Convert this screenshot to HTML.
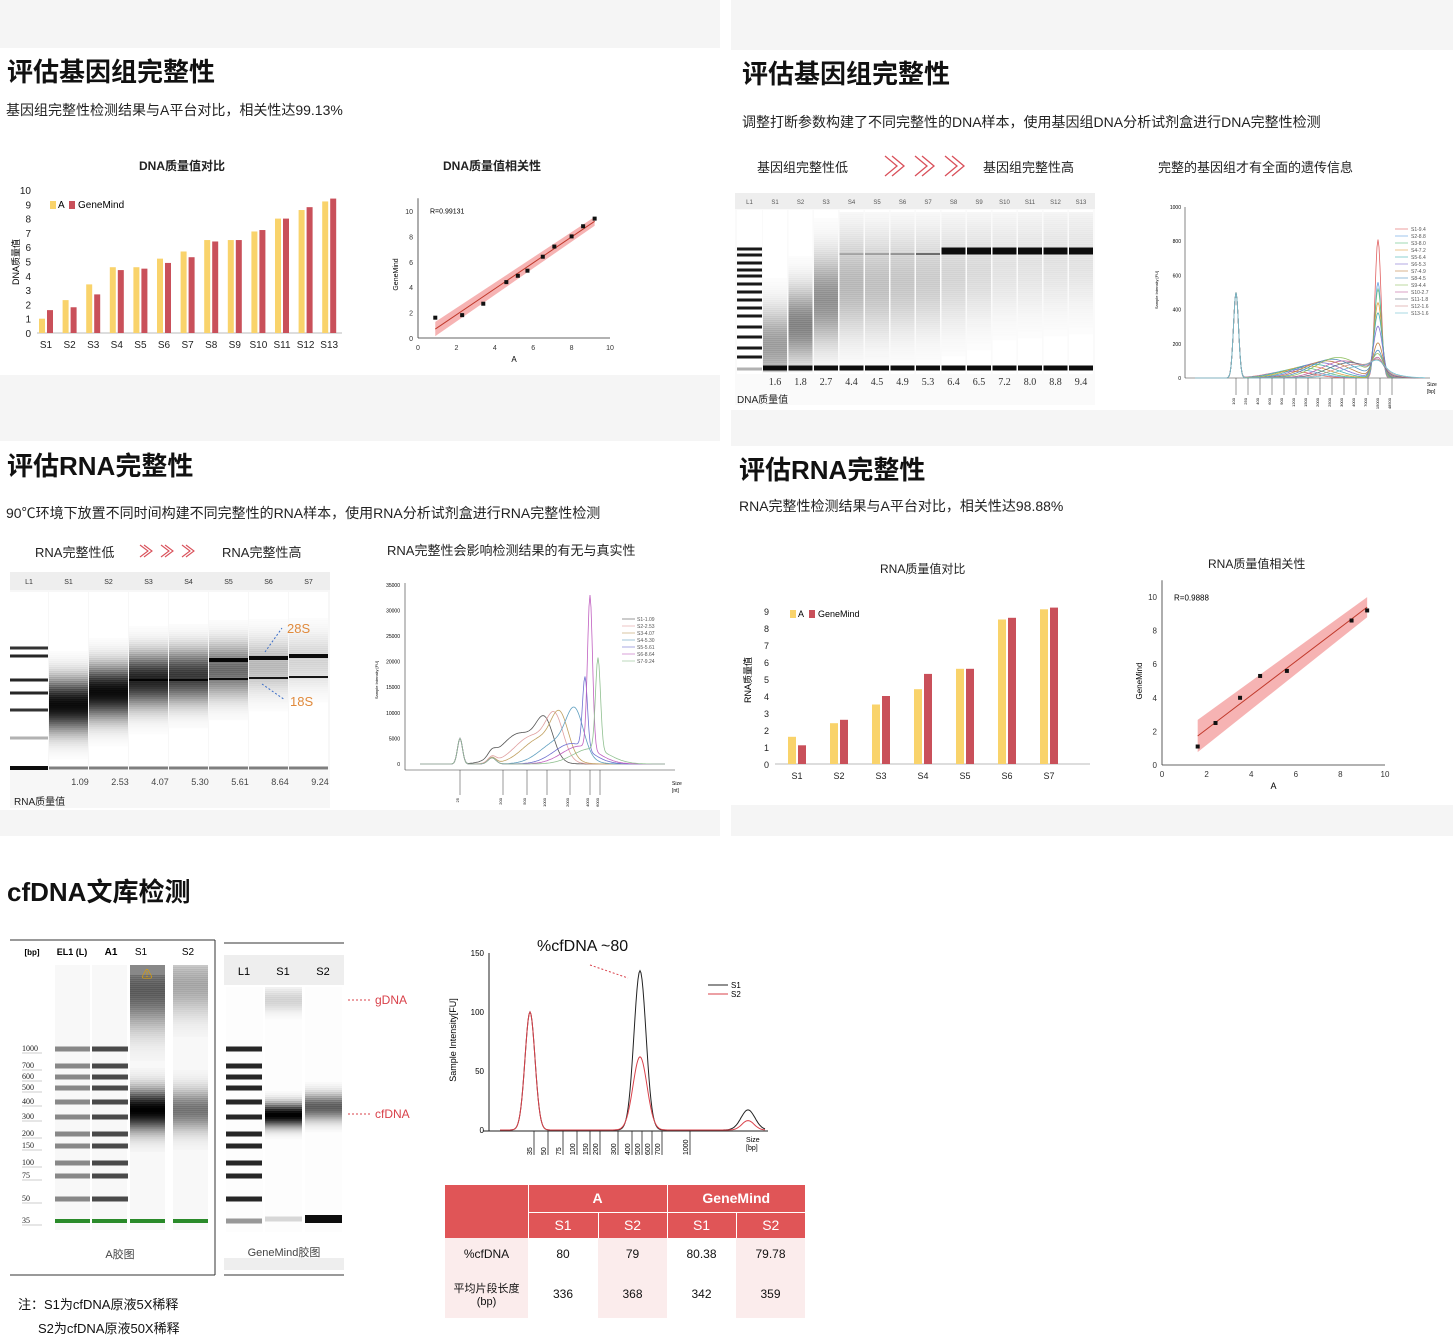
<!DOCTYPE html>
<html><head><meta charset="utf-8">
<style>
*{margin:0;padding:0;box-sizing:border-box}
body{width:1453px;height:1341px;background:#fff;position:relative;overflow:hidden;font-family:"Liberation Sans","Noto Sans CJK SC",sans-serif;color:#111}
.abs{position:absolute}
.title{position:absolute;font-size:26px;font-weight:bold;white-space:nowrap}
.sub{position:absolute;font-size:14px;white-space:nowrap;color:#222}
.ctitle{position:absolute;font-size:12px;font-weight:bold;white-space:nowrap;color:#222}
.gray{position:absolute;background:#f5f5f5}
svg{position:absolute;overflow:visible}
</style></head><body>
<div class="gray" style="left:0;top:0;width:720px;height:48px"></div>
<div class="gray" style="left:731px;top:0;width:722px;height:50px"></div>
<div class="gray" style="left:0;top:375px;width:720px;height:66px"></div>
<div class="gray" style="left:731px;top:410px;width:722px;height:36px"></div>
<div class="gray" style="left:0;top:810px;width:720px;height:26px"></div>
<div class="gray" style="left:731px;top:805px;width:722px;height:31px"></div>

<div class="title" style="left:7px;top:52px">评估基因组完整性</div>
<div class="sub" style="left:6px;top:100px">基因组完整性检测结果与A平台对比，相关性达99.13%</div>
<div class="ctitle" style="left:139px;top:157px">DNA质量值对比</div>
<div class="ctitle" style="left:443px;top:157px">DNA质量值相关性</div>
<svg id="bar1" width="720" height="380" style="left:0;top:0"></svg>
<svg id="sc1" width="720" height="380" style="left:0;top:0"></svg>

<div class="title" style="left:742px;top:54px">评估基因组完整性</div>
<div class="sub" style="left:742px;top:112px">调整打断参数构建了不同完整性的DNA样本，使用基因组DNA分析试剂盒进行DNA完整性检测</div>
<div class="ctitle" style="left:757px;top:157px;font-size:13px;font-weight:normal">基因组完整性低</div>
<svg width="90" height="24" style="left:883px;top:154px">
<g fill="none" stroke="#d9505a" stroke-width="1.3"><path d="M2,2 L14,12 L2,22 M9,2 L21,12 L9,22"/><path d="M32,2 L44,12 L32,22 M39,2 L51,12 L39,22"/><path d="M62,2 L74,12 L62,22 M69,2 L81,12 L69,22"/></g></svg>
<div class="ctitle" style="left:983px;top:157px;font-size:13px;font-weight:normal">基因组完整性高</div>
<div class="ctitle" style="left:1158px;top:157px;font-size:13px;font-weight:normal">完整的基因组才有全面的遗传信息</div>
<svg id="gel1" width="1453" height="420" style="left:0;top:0"></svg>
<svg id="chr1" width="1453" height="420" style="left:0;top:0"></svg>

<div class="title" style="left:7px;top:446px">评估RNA完整性</div>
<div class="sub" style="left:6px;top:503px">90℃环境下放置不同时间构建不同完整性的RNA样本，使用RNA分析试剂盒进行RNA完整性检测</div>
<div class="ctitle" style="left:35px;top:542px;font-size:13px;font-weight:normal">RNA完整性低</div>
<svg width="70" height="14" style="left:139px;top:544px">
<g fill="none" stroke="#d9505a" stroke-width="1.1"><path d="M1,1 L9,7 L1,13 M5,1 L13,7 L5,13"/><path d="M22,1 L30,7 L22,13 M26,1 L34,7 L26,13"/><path d="M43,1 L51,7 L43,13 M47,1 L55,7 L47,13"/></g></svg>
<div class="ctitle" style="left:222px;top:542px;font-size:13px;font-weight:normal">RNA完整性高</div>
<div class="ctitle" style="left:387px;top:540px;font-size:13px;font-weight:normal">RNA完整性会影响检测结果的有无与真实性</div>
<svg id="gel2" width="720" height="840" style="left:0;top:0"></svg>
<svg id="chr2" width="720" height="840" style="left:0;top:0"></svg>

<div class="title" style="left:739px;top:450px">评估RNA完整性</div>
<div class="sub" style="left:739px;top:496px">RNA完整性检测结果与A平台对比，相关性达98.88%</div>
<div class="ctitle" style="left:880px;top:560px;font-weight:normal">RNA质量值对比</div>
<div class="ctitle" style="left:1208px;top:555px;font-weight:normal">RNA质量值相关性</div>
<svg id="bar2" width="1453" height="840" style="left:0;top:0"></svg>
<svg id="sc2" width="1453" height="840" style="left:0;top:0"></svg>

<div class="title" style="left:7px;top:872px">cfDNA文库检测</div>
<svg id="gel3" width="1453" height="1341" style="left:0;top:0"></svg>
<svg id="chr3" width="1453" height="1341" style="left:0;top:0"></svg>
<div class="abs" style="left:537px;top:938px;font-size:16px">%cfDNA ~80</div>

<table style="position:absolute;left:445px;top:1185px;width:360px;border-collapse:collapse;font-size:12px;text-align:center;table-layout:fixed">
<colgroup><col style="width:83px"><col style="width:70px"><col style="width:69px"><col style="width:69px"><col style="width:69px"></colgroup>
<tr style="height:27px;background:#e05557;color:#fff;font-weight:bold;font-size:14px"><td rowspan="2" style="border-right:1px solid #fff"></td><td colspan="2" style="border-right:1px solid #fff;border-bottom:1px solid #fff">A</td><td colspan="2" style="border-bottom:1px solid #fff">GeneMind</td></tr>
<tr style="height:26px;background:#e05557;color:#fff;font-size:14px"><td style="border-right:1px solid #fff">S1</td><td style="border-right:1px solid #fff">S2</td><td style="border-right:1px solid #fff">S1</td><td>S2</td></tr>
<tr style="height:32px"><td style="background:#fbecec">%cfDNA</td><td>80</td><td style="background:#fbecec">79</td><td>80.38</td><td style="background:#fbecec">79.78</td></tr>
<tr style="height:48px"><td style="background:#fbecec;font-size:11px">平均片段长度<br>(bp)</td><td>336</td><td style="background:#fbecec">368</td><td>342</td><td style="background:#fbecec">359</td></tr>
</table>
<div class="abs" style="left:18px;top:1294px;font-size:13px">注：S1为cfDNA原液5X稀释</div>
<div class="abs" style="left:38px;top:1318px;font-size:13px">S2为cfDNA原液50X稀释</div>

<script>
const NS="http://www.w3.org/2000/svg";
function mk(p,t,a,txt){const e=document.createElementNS(NS,t);for(const k in a)e.setAttribute(k,a[k]);if(txt!==undefined)e.textContent=txt;p.appendChild(e);return e;}

// ---- DNA bar chart data ----
const dnaCats=["S1","S2","S3","S4","S5","S6","S7","S8","S9","S10","S11","S12","S13"];
const dnaA=[1.0,2.3,3.4,4.6,4.6,5.2,5.7,6.5,6.5,7.1,8.0,8.6,9.2];
const dnaG=[1.6,1.8,2.7,4.4,4.5,4.9,5.3,6.4,6.5,7.2,8.0,8.8,9.4];
const dnaTicks=[0,1,2,3,4,5,6,7,8,9,10];
// ---- RNA bar chart data ----
const rnaCats=["S1","S2","S3","S4","S5","S6","S7"];
const rnaA=[1.6,2.4,3.5,4.4,5.6,8.5,9.1];
const rnaG=[1.1,2.6,4.0,5.3,5.6,8.6,9.2];
const rnaTicks=[0,1,2,3,4,5,6,7,8,9];
const gelDNAvals=["1.6","1.8","2.7","4.4","4.5","4.9","5.3","6.4","6.5","7.2","8.0","8.8","9.4"];
const gelRNAvals=["1.09","2.53","4.07","5.30","5.61","8.64","9.24"];

function barChart(id,cats,A,G,ticks,o){
 const s=document.getElementById(id);
 const y=v=>o.y0-v*o.k, x=i=>o.x0+i*o.step;
 mk(s,"line",{x1:o.ax,y1:o.y0,x2:o.ax2,y2:o.y0,stroke:"#bbb"});
 ticks.forEach(t=>{const e=mk(s,"text",{x:o.ax-6,y:y(t)+4,"font-size":o.fs,"text-anchor":"end",fill:"#222"},t);
 });
 cats.forEach((c,i)=>{
  const a=mk(s,"rect",{x:x(i)-o.bw-1,y:y(A[i]),width:o.bw,height:A[i]*o.k,fill:"#f9d36b"});
  
  const g=mk(s,"rect",{x:x(i)+1,y:y(G[i]),width:o.bw,height:G[i]*o.k,fill:"#c9505a"});
  
  const l=mk(s,"text",{x:x(i),y:o.y0+15,"font-size":o.fs,"text-anchor":"middle",fill:"#222"},c);
  
 });
 mk(s,"rect",{x:o.lx,y:o.ly-7,width:6,height:8,fill:"#f9d36b"});
 mk(s,"text",{x:o.lx+8,y:o.ly,"font-size":o.fs},"A");
 mk(s,"rect",{x:o.lx+19,y:o.ly-7,width:6,height:8,fill:"#c9505a"});
 mk(s,"text",{x:o.lx+28,y:o.ly,"font-size":o.fs},"GeneMind");
 const yt=mk(s,"text",{x:0,y:0,"font-size":9,transform:`translate(${o.ytx},${o.yty}) rotate(-90)`,"text-anchor":"middle"},o.ylab);
 
}
barChart("bar1",dnaCats,dnaA,dnaG,dnaTicks,{y0:333,k:14.3,x0:46,step:23.6,bw:6,ax:37,ax2:342,fs:10,lx:50,ly:208,ylab:"DNA质量值",ytx:19,yty:262});
barChart("bar2",rnaCats,rnaA,rnaG,rnaTicks,{y0:764,k:17,x0:797,step:42,bw:8,ax:775,ax2:1090,fs:9,lx:790,ly:617,ylab:"RNA质量值",ytx:751,yty:680});

// ---- scatter data ----
const sc1X=[0.9,2.3,3.4,4.6,5.2,5.7,6.5,7.1,8.0,8.6,9.2];
const sc1Y=[1.6,1.8,2.7,4.4,4.9,5.3,6.4,7.2,8.0,8.8,9.4];
const sc2X=[1.6,2.4,3.5,4.4,5.6,8.5,9.2];
const sc2Y=[1.1,2.5,4.0,5.3,5.6,8.6,9.2];
const scTicks=[0,2,4,6,8,10];
function scatter(id,X,Y,o){
 const s=document.getElementById(id);
 const sx=v=>o.x0+v*o.kx, sy=v=>o.y0-v*o.ky;
 mk(s,"line",{x1:o.x0,y1:o.y0,x2:sx(10),y2:o.y0,stroke:"#333","stroke-width":0.8});
 mk(s,"line",{x1:o.x0,y1:o.y0,x2:o.x0,y2:sy(11),stroke:"#333","stroke-width":0.8});
 scTicks.forEach(t=>{mk(s,"text",{x:sx(t),y:o.y0+12,"font-size":o.fs,"text-anchor":"middle",fill:"#333"},t);
  mk(s,"text",{x:o.x0-5,y:sy(t)+3,"font-size":o.fs,"text-anchor":"end",fill:"#333"},t);});
 const n=X.length,mx=X.reduce((a,b)=>a+b)/n,my=Y.reduce((a,b)=>a+b)/n;
 let sxy=0,sxx=0;X.forEach((v,i)=>{sxy+=(v-mx)*(Y[i]-my);sxx+=(v-mx)*(v-mx);});
 const b=sxy/sxx,a=my-b*mx,x1=Math.min(...X),x2=Math.max(...X),w=o.band;
 mk(s,"path",{d:`M${sx(x1)},${sy(a+b*x1-w*1.6)} L${sx(x2)},${sy(a+b*x2-w)} L${sx(x2)},${sy(a+b*x2+w)} L${sx(x1)},${sy(a+b*x1+w*1.6)}Z`,fill:"#f4a0a0",opacity:0.8});
 const ln=mk(s,"line",{x1:sx(x1),y1:sy(a+b*x1),x2:sx(x2),y2:sy(a+b*x2),stroke:"#c0392b","stroke-width":1});
 
 X.forEach((v,i)=>{const p=mk(s,"rect",{x:sx(v)-2,y:sy(Y[i])-2,width:4,height:4,fill:"#111"});
  });
 mk(s,"text",{x:o.x0+12,y:sy(9.8),"font-size":o.fs},o.r);
 mk(s,"text",{x:sx(5),y:o.y0+24,"font-size":o.fs+1,"text-anchor":"middle"},"A");
 mk(s,"text",{x:0,y:0,"font-size":o.fs,transform:`translate(${o.x0-20},${sy(5)}) rotate(-90)`,"text-anchor":"middle"},"GeneMind");
}
scatter("sc1",sc1X,sc1Y,{x0:418,y0:338,kx:19.2,ky:12.7,band:0.35,fs:7,r:"R=0.99131"});
scatter("sc2",sc2X,sc2Y,{x0:1162,y0:765,kx:22.3,ky:16.8,band:0.6,fs:8,r:"R=0.9888"});

// ---- gel helpers ----
function band(s,x,y,w,h,op){mk(s,"rect",{x:x,y:y-h/2,width:w,height:h,fill:"#000",opacity:op});}
function smear(s,x,c,sig,w,op,lo,hi){
 for(let y=Math.max(lo,c-3*sig);y<Math.min(hi,c+3*sig);y+=2){
  const o=op*Math.exp(-((y+1-c)**2)/(2*sig*sig));
  if(o>0.01)mk(s,"rect",{x:x,y:y,width:w,height:2.2,fill:"#000",opacity:o.toFixed(3)});
 }
}
// DNA gel
const dnaSmC=[345,325,300,285,285,282,280,275,270,265,262,260,258];
const dnaSmS=[25,25,30,35,35,35,35,35,35,35,35,35,35];
const dnaSmO=[0.35,0.45,0.4,0.25,0.22,0.2,0.18,0.15,0.13,0.1,0.1,0.1,0.1];
const dnaTopO=[0,0,0,0.2,0.25,0.3,0.5,0.95,0.95,0.95,0.95,0.95,0.95];
(function(){
 const s=document.getElementById("gel1");
 mk(s,"rect",{x:735,y:193,width:360,height:212,fill:"#fafafa"});
 mk(s,"rect",{x:735,y:193,width:360,height:16,fill:"#eee"});
 const lanes=["L1"].concat(dnaCats);
 lanes.forEach((l,i)=>{
  const x=i===0?737:763+(i-1)*25.5, w=i===0?25:24;
  mk(s,"text",{x:x+w/2,y:204,"font-size":6,"text-anchor":"middle",fill:"#555"},l);
  mk(s,"rect",{x:x,y:210,width:w,height:164,fill:"#fff"});
  if(i===0){[249,255,263,270,276,284,292,300,308,316,327,337,348,357].forEach(y=>band(s,x,y,w,3,0.9));band(s,x,369,w,3,0.3);}
  else{
   smear(s,x,dnaSmC[i-1],dnaSmS[i-1],w,dnaSmO[i-1],212,372);
   if(dnaTopO[i-1]>0)band(s,x,i>7?251:254,w,i>7?7:2,dnaTopO[i-1]);
   band(s,x,368,w,5,0.95);
   mk(s,"text",{x:x+w/2,y:385,"font-size":10,"text-anchor":"middle",fill:"#333","font-family":"Liberation Serif"},gelDNAvals[i-1]);
  }
 });
 mk(s,"text",{x:737,y:403,"font-size":10,fill:"#222"},"DNA质量值");
})();
// RNA gel
const rnaSmC=[705,692,680,676,670,665,660];
const rnaSmO=[0.95,0.95,0.85,0.75,0.55,0.25,0.15];
(function(){
 const s=document.getElementById("gel2");
 mk(s,"rect",{x:10,y:572,width:320,height:236,fill:"#f7f7f7"});
 mk(s,"rect",{x:10,y:572,width:320,height:18,fill:"#eee"});
 const lanes=["L1","S1","S2","S3","S4","S5","S6","S7"];
 lanes.forEach((l,i)=>{
  const x=i===0?10:49+(i-1)*40, w=i===0?38:39;
  mk(s,"text",{x:x+w/2,y:584,"font-size":7,"text-anchor":"middle",fill:"#333"},l);
  mk(s,"rect",{x:x,y:592,width:w,height:178,fill:"#fff"});
  if(i===0){[[648,0.8],[656,0.85],[680,0.85],[693,0.85],[710,0.8],[738,0.3]].forEach(b=>band(s,x,b[0],w,3,b[1]));band(s,x,768,w,4,0.95);}
  else{
   smear(s,x,rnaSmC[i-1],18,w,rnaSmO[i-1],594,766);
   if(i>=3)band(s,x,680-(i>4?(i-4):0),w,2,0.9);
   if(i>=5)band(s,x,660-(i-5)*2,w,4,0.95);
   band(s,x,768,w,3,0.5);
   mk(s,"text",{x:x+w-8,y:785,"font-size":9,"text-anchor":"middle",fill:"#444"},gelRNAvals[i-1]);
  }
 });
 mk(s,"text",{x:287,y:633,"font-size":13,fill:"#e08a3c"},"28S");
 mk(s,"text",{x:290,y:706,"font-size":13,fill:"#e08a3c"},"18S");
 mk(s,"line",{x1:265,y1:652,x2:282,y2:628,stroke:"#3b6ec8","stroke-dasharray":"2,2"});
 mk(s,"line",{x1:262,y1:684,x2:285,y2:700,stroke:"#3b6ec8","stroke-dasharray":"2,2"});
 mk(s,"text",{x:14,y:805,"font-size":10,fill:"#222"},"RNA质量值");
})();
// cfDNA gels
const ladBp=["1000","700","600","500","400","300","200","150","100","75","50","35"];
const ladY=[1049,1066,1077,1088,1102,1117,1134,1146,1163,1176,1199,1221];
(function(){
 const s=document.getElementById("gel3");
 mk(s,"line",{x1:10,y1:940,x2:215,y2:940,stroke:"#333"});
 mk(s,"line",{x1:10,y1:1275,x2:215,y2:1275,stroke:"#333"});
 mk(s,"line",{x1:215,y1:940,x2:215,y2:1275,stroke:"#333"});
 mk(s,"line",{x1:224,y1:943,x2:344,y2:943,stroke:"#333"});
 mk(s,"line",{x1:224,y1:1275,x2:344,y2:1275,stroke:"#333"});
 mk(s,"rect",{x:224,y:955,width:120,height:30,fill:"#eee"});
 mk(s,"rect",{x:224,y:1258,width:120,height:12,fill:"#eee"});
 [["[bp]",32,8],["EL1 (L)",72,9],["A1",111,10],["S1",141,10],["S2",188,10]].forEach(t=>mk(s,"text",{x:t[1],y:955,"font-size":t[2],"text-anchor":"middle","font-weight":t[0]==="S1"||t[0]==="S2"?"normal":"bold"},t[0]));
 [["L1",244],["S1",283],["S2",323]].forEach(t=>mk(s,"text",{x:t[1],y:975,"font-size":11,"text-anchor":"middle"},t[0]));
 [55,92,130,173].forEach(x=>mk(s,"rect",{x:x,y:965,width:35,height:265,fill:"#f8f8f8"}));
 [226,265,305].forEach(x=>mk(s,"rect",{x:x,y:987,width:37,height:245,fill:"#fdfdfd"}));
 ladBp.forEach((b,i)=>{
  mk(s,"text",{x:22,y:ladY[i]+2,"font-size":8,fill:"#222","font-family":"Liberation Serif"},b);
  mk(s,"line",{x1:22,y1:ladY[i]+4,x2:42,y2:ladY[i]+4,stroke:"#999","stroke-width":0.6});
  if(i<11){band(s,55,ladY[i],35,5,0.45);band(s,92,ladY[i],36,5,0.7);}
  band(s,226,ladY[i],36,5,i===11?0.4:0.85);
 });
 [55,92,130,173].forEach(x=>mk(s,"rect",{x:x,y:1219,width:35,height:4,fill:"#2a8a2a"}));
 smear(s,130,990,25,35,0.6,965,1300);
 mk(s,"rect",{x:130,y:965,width:35,height:10,fill:"#888"});
 smear(s,130,1110,14,35,1,1040,1160);
 smear(s,173,985,20,35,0.3,965,1040);
 smear(s,173,1110,14,35,0.5,1060,1160);
 smear(s,265,1000,8,37,0.15,987,1030);
 smear(s,265,1115,8,37,1,1090,1140);
 smear(s,305,1107,9,37,0.6,1080,1135);
 band(s,265,1219,37,5,0.15);band(s,305,1219,37,8,0.95);
 mk(s,"text",{x:147,y:978,"font-size":11,"text-anchor":"middle",fill:"#e0a000"},"⚠");
 mk(s,"text",{x:120,y:1258,"font-size":11,"text-anchor":"middle",fill:"#444"},"A胶图");
 mk(s,"text",{x:284,y:1256,"font-size":11,"text-anchor":"middle",fill:"#444"},"GeneMind胶图");
 mk(s,"text",{x:375,y:1004,"font-size":12,fill:"#d9414a"},"gDNA");
 mk(s,"text",{x:375,y:1118,"font-size":12,fill:"#d9414a"},"cfDNA");
 mk(s,"line",{x1:348,y1:1000,x2:370,y2:1000,stroke:"#d9414a","stroke-dasharray":"2,2"});
 mk(s,"line",{x1:348,y1:1114,x2:370,y2:1114,stroke:"#d9414a","stroke-dasharray":"2,2"});
})();

// ---- electropherograms ----
function curve(s,peaks,f,x0,x1,color,w){
 let d="";for(let x=x0;x<=x1;x+=1){let v=0;peaks.forEach(p=>{v+=p[1]*Math.exp(-((x-p[0])**2)/(2*p[2]*p[2]));});d+=(d?"L":"M")+x+","+f(v).toFixed(1);}
 const e=mk(s,"path",{d:d,fill:"none",stroke:color,"stroke-width":w||0.8});
 
}
const dnaSeries=["S1-9.4","S2-8.8","S3-8.0","S4-7.2","S5-6.4","S6-5.3","S7-4.9","S8-4.5","S9-4.4","S10-2.7","S11-1.8","S12-1.6","S13-1.6"];
const dnaColors=["#e06060","#60a0e0","#60c080","#e0a040","#40b0b0","#8070d0","#c08040","#5090c0","#90c060","#c060a0","#607080","#d09090","#70c0d0"];
const dnaHigh=[810,560,520,440,380,300,200,150,120,90,70,60,50];
const dnaSmear=[40,50,60,70,80,90,100,110,120,100,90,80,70];
(function(){
 const s=document.getElementById("chr1");
 const y=v=>378-v*0.171;
 mk(s,"line",{x1:1185,y1:207,x2:1185,y2:378,stroke:"#333","stroke-width":0.6});
 mk(s,"line",{x1:1185,y1:378,x2:1430,y2:378,stroke:"#333","stroke-width":0.6});
 [0,200,400,600,800,1000].forEach(t=>mk(s,"text",{x:1181,y:y(t)+2,"font-size":5,"text-anchor":"end"},t));
 dnaSeries.forEach((n,i)=>{
  curve(s,[[1236,500,2.5],[1290+i*6,dnaSmear[i],22],[1378,dnaHigh[i],3+i*0.3]],y,1195,1425,dnaColors[i]);
  mk(s,"line",{x1:1395,y1:229+i*7,x2:1408,y2:229+i*7,stroke:dnaColors[i],"stroke-width":0.6});
  mk(s,"text",{x:1411,y:231+i*7,"font-size":5,fill:"#555"},n);
 });
 ["100","250","400","600","900","1200","1500","2000","2500","3000","4000","7000","15000","48500"].forEach((t,i)=>{
  const x=1236+i*12;mk(s,"line",{x1:x,y1:378,x2:x,y2:395,stroke:"#333","stroke-width":0.5});
  mk(s,"text",{x:0,y:0,"font-size":4,transform:`translate(${x-1},398) rotate(-90)`,"text-anchor":"end"},t);});
 mk(s,"text",{x:1427,y:386,"font-size":5},"Size");mk(s,"text",{x:1427,y:393,"font-size":5},"[bp]");
 mk(s,"text",{x:0,y:0,"font-size":4,transform:"translate(1158,290) rotate(-90)","text-anchor":"middle"},"Sample Intensity [FU]");
})();
const rnaSeries=["S1-1.09","S2-2.53","S3-4.07","S4-5.30","S5-5.61","S6-8.64","S7-9.24"];
const rnaColors=["#555","#e0a0a0","#c0a060","#60a0c0","#7070d0","#c060c0","#90c090"];
const rnaPeakX=[545,555,560,575,585,590,598];
const rnaPeakH=[7000,7500,7500,8000,14000,30000,18000];
(function(){
 const s=document.getElementById("chr2");
 const y=v=>764-v*0.00512;
 mk(s,"line",{x1:405,y1:583,x2:405,y2:770,stroke:"#333","stroke-width":0.6});
 mk(s,"line",{x1:405,y1:770,x2:675,y2:770,stroke:"#333","stroke-width":0.6});
 [0,5000,10000,15000,20000,25000,30000,35000].forEach(t=>mk(s,"text",{x:400,y:y(t)+2,"font-size":5,"text-anchor":"end"},t));
 rnaSeries.forEach((n,i)=>{
  curve(s,[[460,5000,2.5],[492,1200,4],[rnaPeakX[i]-25+i*3,6000-i*500,18],[rnaPeakX[i],rnaPeakH[i],2.5+ (i<4?6:0)]],y,420,665,rnaColors[i]);
  mk(s,"line",{x1:622,y1:619+i*7,x2:635,y2:619+i*7,stroke:rnaColors[i],"stroke-width":0.6});
  mk(s,"text",{x:637,y:621+i*7,"font-size":5,fill:"#555"},n);
 });
 [["25",460],["200",503],["500",527],["1000",547],["2000",570],["4000",590],["6000",600]].forEach(t=>{
  mk(s,"line",{x1:t[1],y1:770,x2:t[1],y2:795,stroke:"#333","stroke-width":0.5});
  mk(s,"text",{x:0,y:0,"font-size":4,transform:`translate(${t[1]-1},798) rotate(-90)`,"text-anchor":"end"},t[0]);});
 mk(s,"text",{x:672,y:785,"font-size":5},"Size");mk(s,"text",{x:672,y:792,"font-size":5},"[nt]");
 mk(s,"text",{x:0,y:0,"font-size":4,transform:"translate(378,680) rotate(-90)","text-anchor":"middle"},"Sample Intensity [FU]");
})();
const cfS1=[[530,100,5],[640,135,6],[748,17,7]];
const cfS2=[[530,100,5],[640,62,7],[748,8,6]];
(function(){
 const s=document.getElementById("chr3");
 const y=v=>1130-v*1.18;
 mk(s,"line",{x1:489,y1:953,x2:489,y2:1131,stroke:"#222"});
 mk(s,"line",{x1:483,y1:1131,x2:768,y2:1131,stroke:"#222"});
 [0,50,100,150].forEach(t=>mk(s,"text",{x:484,y:y(t)+3,"font-size":8,"text-anchor":"end"},t));
 curve(s,cfS1,y,500,765,"#222",1);
 curve(s,cfS2,y,500,765,"#d9414a",1);
 mk(s,"line",{x1:708,y1:985,x2:728,y2:985,stroke:"#222"});mk(s,"text",{x:731,y:988,"font-size":8},"S1");
 mk(s,"line",{x1:708,y1:994,x2:728,y2:994,stroke:"#d9414a"});mk(s,"text",{x:731,y:997,"font-size":8},"S2");
 mk(s,"line",{x1:590,y1:965,x2:628,y2:978,stroke:"#d9414a","stroke-dasharray":"2,2"});
 [["35",534],["50",548],["75",563],["100",577],["150",590],["200",600],["300",618],["400",632],["500",642],["600",652],["700",662],["1000",690]].forEach(t=>{
  mk(s,"line",{x1:t[1],y1:1131,x2:t[1],y2:1155,stroke:"#222","stroke-width":0.8});
  mk(s,"text",{x:0,y:0,"font-size":7,transform:`translate(${t[1]-2},1155) rotate(-90)`},t[0]);});
 mk(s,"text",{x:746,y:1142,"font-size":7},"Size");mk(s,"text",{x:746,y:1150,"font-size":7},"[bp]");
 mk(s,"text",{x:0,y:0,"font-size":9,transform:"translate(456,1040) rotate(-90)","text-anchor":"middle"},"Sample Intensity[FU]");
})();
</script>
</body></html>
